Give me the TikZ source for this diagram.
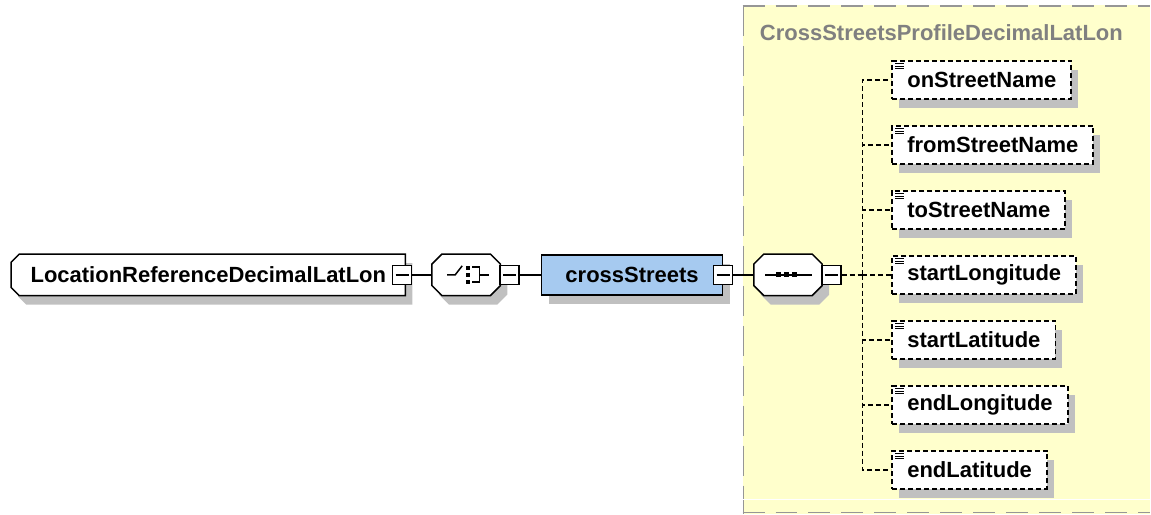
\documentclass[tikz,border=0pt]{standalone}
\usepackage{fontspec}
\setmainfont{Liberation Sans}
\usetikzlibrary{shadows,backgrounds}
\definecolor{grp_yellow}{RGB}{255, 255, 204}
\definecolor{grp_gray}{RGB}{150, 150, 150}
\definecolor{shade_gray}{RGB}{192, 192, 192}
\definecolor{sel_blue}{RGB}{166, 202, 240}
\definecolor{title_gray}{RGB}{128, 128, 128}

% outline of a box with cut corners: node, left cut, right cut, offset
\newcommand\cutpath[4]{([shift={#4},xshift=#2]#1.north west)
    -- ([shift={#4},xshift=-#3]#1.north east) -- ([shift={#4},yshift=-#3]#1.north east)
    -- ([shift={#4},yshift=#3]#1.south east) -- ([shift={#4},xshift=-#3]#1.south east)
    -- ([shift={#4},xshift=#2]#1.south west) -- ([shift={#4},yshift=#2]#1.south west)
    -- ([shift={#4},yshift=-#2]#1.north west) -- cycle}

\begin{document}
\begin{tikzpicture}[
        x=1pt, y=-1pt,
        font=\fontsize{22}{26}\selectfont\bfseries,
        line width=1.5pt,
        shade/.style={
            general shadow={shadow xshift=7pt, shadow yshift=-9pt, fill=shade_gray}
        },
        elem/.style={
            shade, draw, fill=white, minimum height=40, inner sep=0pt
        },
        cutbox/.style={minimum height=40, inner sep=0pt},
        minusbox/.style={
            draw, fill=white, minimum size=19, inner sep=0pt,
            path picture={
                \draw ([xshift=3pt]path picture bounding box.west)
                    -- ([xshift=-3pt]path picture bounding box.east);
            }
        },
        dline/.style={line width=1.8pt, dash pattern=on 5pt off 3pt},
        attr/.style={
            shade, draw, dline, fill=white, anchor=west,
            minimum height=38, inner xsep=15,
            path picture={
                \foreach \dy in {3,5.5,8}
                    \draw[solid, line width=1pt] ([xshift=3pt,yshift=-\dy pt]path picture bounding box.north west)
                        -- ++(9,0);
            }
        },
        conn/.style={},
        dconn/.style={dline}
    ]

    % group of the complex type
    \begin{scope}[on background layer]
        \fill[grp_yellow] (743,5) rectangle (1151,514);
        \draw[grp_gray, line width=1.5pt, dash pattern=on 22pt off 11pt] (743,6) -- (1151,6);
        \draw[grp_gray, line width=1.5pt, dash pattern=on 30pt off 10pt] (744,6) -- (744,514);
        \draw[white, line width=1.5pt] (743,500) -- (1151,500);
        \draw[grp_gray, line width=1.5pt, dash pattern=on 22pt off 11pt] (743,513) -- (1151,513);
    \end{scope}
    \node[text=title_gray] (grptitle) at (942,33) {CrossStreetsProfileDecimalLatLon};

    % main row
    \node[cutbox, minimum width=393] (locref) at (208.5,275) {LocationReferenceDecimalLatLon\hspace{24pt}};
    \node[cutbox, minimum width=67] (choice) at (466.5,275) {};
    \node[cutbox, minimum width=67] (seq) at (788.5,275) {};
    \begin{scope}[on background layer]
        \foreach \nm/\cl/\cr in {locref/8/0, choice/10/10, seq/10/10} {
            \fill[shade_gray] \cutpath{\nm}{\cl}{\cr}{(7,9)};
            \filldraw[fill=white, draw=black, line width=1.5pt] \cutpath{\nm}{\cl}{\cr}{(0,0)};
        }
    \end{scope}
    \node[minusbox] (locrefm) at (402.5,275) {};

    \node[minusbox] (choicem) at (510,275) {};
    \begin{scope}[shift={(choice.center)}]
        \draw (-19,0) -- (-11,0) -- (-4,-9);
        \foreach \dy in {-9,-2,5}
            \fill (0,\dy) rectangle (4,\dy+4);
        \draw (6,-8) -- (13.5,-8) -- (13.5,7) -- (6,7);
        \draw (13.5,0) -- (23,0);
    \end{scope}

    \node[elem, fill=sel_blue, minimum width=181] (xstreets) at (632.5,275) {crossStreets\hspace{12pt}};
    \node[minusbox] (xstreetsm) at (723.5,275) {};

    \node[minusbox] (seqm) at (832,275) {};
    \begin{scope}[shift={(seq.center)}]
        \draw (-23,0) -- (24,0);
        \foreach \dx in {-12,-4,4}
            \fill (\dx,-2.5) rectangle (\dx+5,2.5);
    \end{scope}

    \draw[conn] (locrefm.east) -- (choice.west);
    \draw[conn] (choicem.east) -- (xstreets.west);
    \draw[conn] (xstreetsm.east) -- (seq.west);

    % children of the sequence
    \coordinate (trunk) at (863,275);
    \draw[dconn] (seqm.east) -- (trunk);
    \foreach \nm/\lbl [count=\i] in {onst/onStreetName, fromst/fromStreetName,
        tost/toStreetName, startlon/startLongitude, startlat/startLatitude,
        endlon/endLongitude, endlat/endLatitude} {
        \node[attr] (\nm) at (892,15+65*\i) {\lbl};
        \draw[dconn] (trunk) |- (\nm.west);
    }

    \useasboundingbox (0,0) rectangle (1151,514);
\end{tikzpicture}
\end{document}
